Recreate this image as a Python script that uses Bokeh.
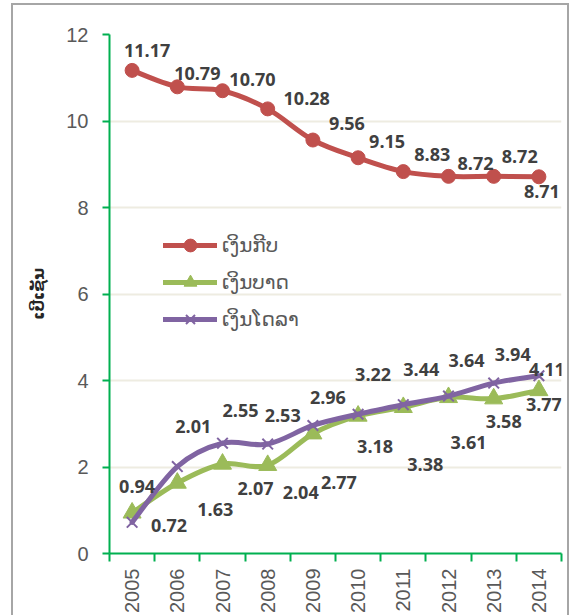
import math
from bokeh.plotting import figure
from bokeh.models import (Range1d, FixedTicker, CustomJSTickFormatter, Legend,
                          LegendItem, ColumnDataSource)
from bokeh.core.properties import value
from bokeh.embed import file_html
from bokeh.resources import INLINE

# ---------------- data ----------------
years = ["2005", "2006", "2007", "2008", "2009", "2010", "2011", "2012", "2013", "2014"]
kip = [11.17, 10.79, 10.70, 10.28, 9.56, 9.15, 8.83, 8.72, 8.72, 8.71]
baht = [0.94, 1.63, 2.07, 2.04, 2.77, 3.18, 3.38, 3.61, 3.58, 3.77]
usd = [0.72, 2.01, 2.55, 2.53, 2.96, 3.22, 3.44, 3.64, 3.94, 4.11]
series_names = ["ເງິນກີບ", "ເງິນບາດ", "ເງິນໂດລາ"]
y_label = "ເປີເຊັນ"
y_ticks = [0, 2, 4, 6, 8, 10, 12]

# ---------------- label placement (screen px offsets) ----------------
kip_dx = [15, 20, 30, 39, 34, 29, 29, 27, 26, 3]
kip_dy = [-20, -13, -11, -10, -17, -16, -17, -13, -20, 15]
baht_dx = [5, 38, 33, 33, 26, 17, 22, 20, 10, 5]
baht_dy = [-26, 26, 25, 27, 49, 31, 57, 45, 23, 14]
usd_dx = [37, 16, 18, 15, 15, 15, 18, 18, 19, 8]
usd_dy = [3, -40, -33, -29, -28, -40, -35, -36, -29, -6]

RED, GREEN, PURPLE = "#C0504D", "#9BBB59", "#8064A2"
AXIS_GREEN = "#00B050"
GRID = "#EEECE1"
LABEL_GREY = "#595959"
DATA_LABEL = "#404040"

xs = [i + 0.5 for i in range(len(years))]

p = figure(width=554, height=610, output_backend="svg", toolbar_location=None,
           x_range=Range1d(0, len(years)), y_range=Range1d(0, 12),
           min_border_left=96, min_border_right=6, min_border_top=29,
           min_border_bottom=60, outline_line_color=None,
           background_fill_color="white", border_fill_color="white")
p.styles = {"margin-left": "13px", "margin-top": "5px",
            "outline": "2px solid #a6a6a6", "outline-offset": "0px"}


def bezier_source(xv, yv):
    n = len(xv)
    d = dict(x0=[], y0=[], x1=[], y1=[], cx0=[], cy0=[], cx1=[], cy1=[])
    for i in range(n - 1):
        xp, yp = (xv[i - 1], yv[i - 1]) if i > 0 else (xv[i], yv[i])
        xn, yn = (xv[i + 2], yv[i + 2]) if i + 2 < n else (xv[i + 1], yv[i + 1])
        d["x0"].append(xv[i]); d["y0"].append(yv[i])
        d["x1"].append(xv[i + 1]); d["y1"].append(yv[i + 1])
        d["cx0"].append(xv[i] + (xv[i + 1] - xp) / 6)
        d["cy0"].append(yv[i] + (yv[i + 1] - yp) / 6)
        d["cx1"].append(xv[i + 1] - (xn - xv[i]) / 6)
        d["cy1"].append(yv[i + 1] - (yn - yv[i]) / 6)
    return ColumnDataSource(d)


items = []
specs = [
    (kip, RED, "circle", 14),
    (baht, GREEN, "triangle", 18),
    (usd, PURPLE, "x", 15),
]
for (vals, col, marker, size), name in zip(specs, series_names):
    src = bezier_source(xs, vals)
    br = p.bezier(x0="x0", y0="y0", x1="x1", y1="y1", cx0="cx0", cy0="cy0",
                  cx1="cx1", cy1="cy1", source=src, line_color=col,
                  line_width=5, line_cap="round", line_join="round")
    if marker == "x":
        sr = p.scatter(xs, vals, marker=marker, size=size, line_color=col,
                       line_width=2)
    else:
        sr = p.scatter(xs, vals, marker=marker, size=size, fill_color=col,
                       line_color=col)
    items.append(LegendItem(label=name, renderers=[br, sr]))

for vals, dx, dy in [(kip, kip_dx, kip_dy), (baht, baht_dx, baht_dy), (usd, usd_dx, usd_dy)]:
    lsrc = ColumnDataSource(dict(x=xs, y=vals, t=["%.2f" % v for v in vals], dx=dx, dy=dy))
    p.text(x="x", y="y", text="t", x_offset="dx", y_offset="dy", source=lsrc,
           text_font=value("Open Sans"), text_font_style="bold",
           text_font_size="18px", text_color=DATA_LABEL,
           text_align="center", text_baseline="middle")

legend = Legend(items=items, location=(54, 218), orientation="vertical",
                background_fill_alpha=0, border_line_color=None,
                padding=0, margin=0, spacing=5, glyph_width=54,
                glyph_height=32, label_height=32, label_standoff=5,
                label_text_font="DejaVu Sans", label_text_font_size="20px",
                label_text_color=LABEL_GREY)
p.add_layout(legend)

# axes
p.xaxis.ticker = FixedTicker(ticks=xs, minor_ticks=list(range(len(years) + 1)))
p.xaxis.formatter = CustomJSTickFormatter(args=dict(labels=years),
                                          code="return labels[Math.round(tick - 0.5)] || '';")
p.xaxis.major_label_orientation = math.pi / 2
p.xaxis.major_tick_out = 0
p.xaxis.major_tick_in = 0
p.xaxis.minor_tick_out = 8
p.xaxis.minor_tick_in = 0
p.xaxis.minor_tick_line_color = AXIS_GREEN
p.xaxis.minor_tick_line_width = 2
p.xaxis.major_label_standoff = 7

p.yaxis.ticker = FixedTicker(ticks=y_ticks)
p.yaxis.major_tick_out = 7
p.yaxis.major_tick_in = 0
p.yaxis.minor_tick_out = 0
p.yaxis.minor_tick_in = 0
p.yaxis.major_label_standoff = 14
p.yaxis.axis_label = y_label
p.yaxis.axis_label_text_font = "DejaVu Sans"
p.yaxis.axis_label_text_font_style = "bold"
p.yaxis.axis_label_text_font_size = "16px"
p.yaxis.axis_label_text_color = "#262626"
p.yaxis.axis_label_standoff = 15

for ax in (p.xaxis, p.yaxis):
    ax.axis_line_color = AXIS_GREEN
    ax.axis_line_width = 2
    ax.major_tick_line_color = AXIS_GREEN
    ax.major_tick_line_width = 2
    ax.major_label_text_font = "Liberation Sans"
    ax.major_label_text_font_size = "20px"
    ax.major_label_text_color = LABEL_GREY

p.xgrid.grid_line_color = None
p.ygrid.ticker = FixedTicker(ticks=y_ticks)
p.ygrid.grid_line_color = GRID
p.ygrid.grid_line_width = 2

open("out.html", "w").write(file_html(p, INLINE))
